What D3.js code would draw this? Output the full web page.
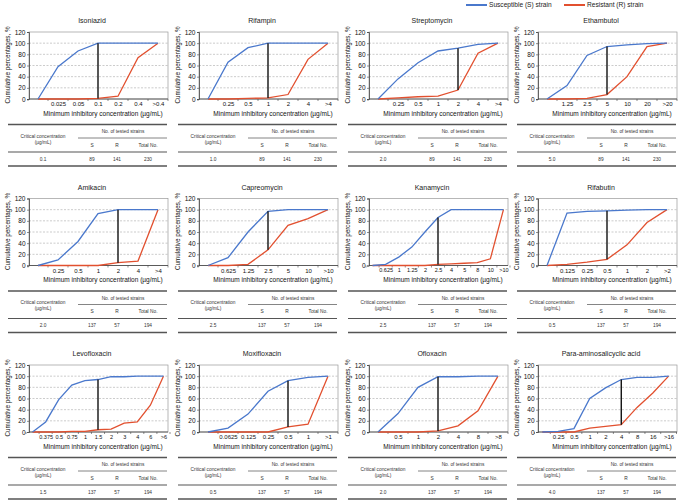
<!DOCTYPE html>
<html>
<head>
<meta charset="utf-8">
<script src="https://cdn.jsdelivr.net/npm/d3@7"></script>
<style>
  html, body { margin: 0; padding: 0; background: #fff; }
  svg { display: block; font-family: "Liberation Sans", Arial, sans-serif; }
</style>
</head>
<body>
<svg id="chart" width="685" height="500"></svg>
<script>
// ---------- data ----------
const drugs = ["Isoniazid", "Rifampin", "Streptomycin", "Ethambutol",
               "Amikacin", "Capreomycin", "Kanamycin", "Rifabutin",
               "Levofloxacin", "Moxifloxacin", "Ofloxacin", "Para-aminosalicyclic acid"];

const micIsoniazid = ["", "0.025", "0.05", "0.1", "0.2", "0.4", ">0.4"];
const sIsoniazid = [0, 58, 86, 100, 100, 100, 100];
const rIsoniazid = [0, 0, 0, 1, 5, 74, 100];

const micRifampin = ["", "0.25", "0.5", "1", "2", "4", ">4"];
const sRifampin = [0, 66, 92, 100, 100, 100, 100];
const rRifampin = [0, 0, 1, 2, 8, 71, 100];

const micStreptomycin = ["", "0.25", "0.5", "1", "2", "4", ">4"];
const sStreptomycin = [0, 36, 65, 86, 91, 98, 100];
const rStreptomycin = [0, 2, 4, 5, 16, 82, 100];

const micEthambutol = ["", "1.25", "2.5", "5", "10", "20", ">20"];
const sEthambutol = [0, 24, 78, 94, 97, 99, 100];
const rEthambutol = [0, 0, 1, 8, 40, 94, 100];

const micAmikacin = ["", "0.25", "0.5", "1", "2", "4", ">4"];
const sAmikacin = [0, 10, 43, 93, 100, 100, 100];
const rAmikacin = [0, 0, 0, 0, 5, 8, 100];

const micCapreomycin = ["", "0.625", "1.25", "2.5", "5", "10", ">10"];
const sCapreomycin = [0, 14, 60, 97, 100, 100, 100];
const rCapreomycin = [0, 0, 2, 28, 72, 84, 100];

const micKanamycin = ["", "0.625", "1", "1.25", "2", "2.5", "4", "5", "8", "10", ">10"];
const sKanamycin = [0, 2, 15, 33, 60, 86, 100, 100, 100, 100, 100];
const rKanamycin = [0, 0, 0, 0, 0, 2, 3, 4, 5, 12, 100];

const micRifabutin = ["", "0.125", "0.25", "0.5", "1", "2", ">2"];
const sRifabutin = [0, 94, 97, 98, 99, 100, 100];
const rRifabutin = [0, 2, 6, 11, 37, 77, 100];

const micLevofloxacin = ["", "0.375", "0.5", "0.75", "1", "1.5", "2", "3", "4", "6", ">6"];
const sLevofloxacin = [0, 18, 58, 84, 92, 94, 99, 99, 100, 100, 100];
const rLevofloxacin = [0, 0, 0, 1, 1, 4, 5, 16, 18, 48, 100];

const micMoxifloxacin = ["", "0.0625", "0.125", "0.25", "0.5", "1", ">1"];
const sMoxifloxacin = [0, 7, 32, 73, 92, 98, 100];
const rMoxifloxacin = [0, 0, 0, 0, 9, 14, 100];

const micOfloxacin = ["", "0.5", "1", "2", "4", "8", ">8"];
const sOfloxacin = [0, 33, 80, 99, 99, 100, 100];
const rOfloxacin = [0, 0, 0, 2, 11, 38, 100];

const micPAS = ["", "0.25", "0.5", "1", "2", "4", "8", "16", ">16"];
const sPAS = [0, 1, 6, 60, 79, 94, 98, 98, 100];
const rPAS = [0, 0, 0, 7, 10, 13, 44, 70, 100];

const micLists = [micIsoniazid, micRifampin, micStreptomycin, micEthambutol,
                  micAmikacin, micCapreomycin, micKanamycin, micRifabutin,
                  micLevofloxacin, micMoxifloxacin, micOfloxacin, micPAS];
const sLists = [sIsoniazid, sRifampin, sStreptomycin, sEthambutol,
                sAmikacin, sCapreomycin, sKanamycin, sRifabutin,
                sLevofloxacin, sMoxifloxacin, sOfloxacin, sPAS];
const rLists = [rIsoniazid, rRifampin, rStreptomycin, rEthambutol,
                rAmikacin, rCapreomycin, rKanamycin, rRifabutin,
                rLevofloxacin, rMoxifloxacin, rOfloxacin, rPAS];

const criticalLabel = ["0.1", "1.0", "2.0", "5.0", "2.0", "2.5", "2.5", "0.5", "1.5", "0.5", "2.0", "4.0"];
const criticalCategory = ["0.1", "1", "2", "5", "2", "2.5", "2.5", "0.5", "1.5", "0.5", "2", "4"];
const testedS = [89, 89, 89, 89, 137, 137, 137, 137, 137, 137, 137, 137];
const testedR = [141, 141, 141, 141, 57, 57, 57, 57, 57, 57, 57, 57];
const testedTotal = [230, 230, 230, 230, 194, 194, 194, 194, 194, 194, 194, 194];

const yTicks = [0, 20, 40, 60, 80, 100, 120];
const seriesNames = ["Susceptible (S) strain", "Resistant  (R) strain"];

// ---------- style ----------
const blue = "#4a78cc";
const red = "#e2502f";
const colX = [0, 170, 340, 509];
const rowY = [0, 166.5, 333];

const svg = d3.select("#chart");

// legend
const legend = svg.append("g");
const legX = [466, 564];
[blue, red].forEach((c, i) => {
  legend.append("line").attr("x1", legX[i]).attr("x2", legX[i] + 21)
    .attr("y1", 5).attr("y2", 5).attr("stroke", c).attr("stroke-width", 2);
  legend.append("text").attr("x", legX[i] + 23).attr("y", 5).attr("dy", "0.35em")
    .attr("font-size", 6.6).attr("fill", "#222").text(seriesNames[i]);
});

drugs.forEach((name, i) => {
  const x0 = colX[i % 4], y0 = rowY[Math.floor(i / 4)];
  const cats = micLists[i];
  const n = cats.length;
  const xr = n >= 11 ? [x0 + 26, x0 + 170] : (n >= 9 ? [x0 + 25.5, x0 + 167.5] : [x0 + 28, x0 + 168]);
  const tickFont = n >= 11 ? 5.5 : 6;
  const x = d3.scalePoint().domain(cats).range(xr).padding(0.5);
  const y = d3.scaleLinear().domain([0, 120]).range([y0 + 99, y0 + 32]);
  const g = svg.append("g");

  // title
  g.append("text").attr("x", x0 + 92).attr("y", y0 + 21).attr("dy", "0.35em")
    .attr("text-anchor", "middle").attr("font-size", 7).attr("fill", "#222").text(name);

  // plot frame
  g.append("rect").attr("x", x0 + 29).attr("y", y(120))
    .attr("width", 139).attr("height", y(0) - y(120))
    .attr("fill", "none").attr("stroke", "#999").attr("stroke-width", 0.7);

  // gridlines
  g.selectAll(".grid").data(yTicks.filter(t => t > 0 && t < 120)).enter().append("line")
    .attr("x1", x0 + 29).attr("x2", x0 + 168)
    .attr("y1", d => y(d)).attr("y2", d => y(d))
    .attr("stroke", "#aaa").attr("stroke-width", 0.6).attr("stroke-dasharray", "2,1.5");

  // y axis
  const ya = g.append("g").attr("transform", `translate(${x0 + 29},0)`)
    .call(d3.axisLeft(y).tickValues(yTicks).tickSize(2).tickPadding(1.5));
  ya.select(".domain").attr("stroke", "#444").attr("stroke-width", 0.8);
  ya.selectAll(".tick line").attr("stroke", "#444").attr("stroke-width", 0.6);
  ya.selectAll("text").attr("font-size", 6.5).attr("fill", "#111")
    .attr("font-family", "Liberation Sans, Arial, sans-serif");

  // x axis
  const xa = g.append("g").attr("transform", `translate(0,${y0 + 99})`)
    .call(d3.axisBottom(x).tickSize(0).tickPadding(3));
  xa.select(".domain").attr("d", `M${x0 + 29},0H${x0 + 168}`)
    .attr("stroke", "#444").attr("stroke-width", 0.8);
  xa.selectAll("text").attr("font-size", tickFont).attr("fill", "#111")
    .attr("font-family", "Liberation Sans, Arial, sans-serif");
  // tick marks between categories
  const step = x.step();
  g.selectAll(".xt").data(d3.range(n + 1)).enter().append("line")
    .attr("x1", d => x(cats[0]) - step / 2 + d * step)
    .attr("x2", d => x(cats[0]) - step / 2 + d * step)
    .attr("y1", y0 + 99).attr("y2", y0 + 101)
    .attr("stroke", "#444").attr("stroke-width", 0.6);

  // axis titles
  g.append("text").attr("transform", `translate(${x0 + 8},${y0 + 65}) rotate(-90)`)
    .attr("dy", "0.35em").attr("text-anchor", "middle").attr("font-size", 6.3).attr("fill", "#111")
    .text("Cumulative percentages, %");
  g.append("text").attr("x", x0 + 103).attr("y", y0 + 113.5).attr("dy", "0.35em")
    .attr("text-anchor", "middle").attr("font-size", 6.5).attr("fill", "#111")
    .text("Minimum inhibitory concentration (µg/mL)");

  // series lines
  const line = d3.line().x((d, j) => x(cats[j])).y(d => y(d));
  g.append("path").datum(rLists[i]).attr("d", line)
    .attr("fill", "none").attr("stroke", red).attr("stroke-width", 1.3);
  g.append("path").datum(sLists[i]).attr("d", line)
    .attr("fill", "none").attr("stroke", blue).attr("stroke-width", 1.3);

  // critical concentration line
  const ci = cats.indexOf(criticalCategory[i]);
  g.append("line").attr("x1", x(cats[ci])).attr("x2", x(cats[ci]))
    .attr("y1", y(sLists[i][ci])).attr("y2", y(rLists[i][ci]))
    .attr("stroke", "#111").attr("stroke-width", 1.4);

  // table
  const t = g.append("g").attr("font-size", 4.8).attr("fill", "#333").attr("text-anchor", "middle");
  t.append("line").attr("x1", x0 + 8).attr("x2", x0 + 167).attr("y1", y0 + 124.5).attr("y2", y0 + 124.5)
    .attr("stroke", "#555").attr("stroke-width", 1.3);
  t.append("line").attr("x1", x0 + 78).attr("x2", x0 + 167).attr("y1", y0 + 138).attr("y2", y0 + 138)
    .attr("stroke", "#666").attr("stroke-width", 0.8);
  t.append("line").attr("x1", x0 + 8).attr("x2", x0 + 167).attr("y1", y0 + 152).attr("y2", y0 + 152)
    .attr("stroke", "#555").attr("stroke-width", 1.1);
  t.append("line").attr("x1", x0 + 8).attr("x2", x0 + 167).attr("y1", y0 + 166).attr("y2", y0 + 166)
    .attr("stroke", "#555").attr("stroke-width", 1.3);
  const txt = (tx, ty, s) => t.append("text").attr("x", x0 + tx).attr("y", y0 + ty)
    .attr("dy", "0.35em").text(s);
  txt(43, 136, "Critical concentration");
  txt(43, 142, "(µg/mL)");
  txt(123, 131.5, "No. of tested strains");
  txt(92, 145, "S");
  txt(117, 145, "R");
  txt(148, 145, "Total  No.");
  txt(43, 159, criticalLabel[i]);
  txt(92, 159, testedS[i]);
  txt(117, 159, testedR[i]);
  txt(148, 159, testedTotal[i]);
});
</script>
</body>
</html>
